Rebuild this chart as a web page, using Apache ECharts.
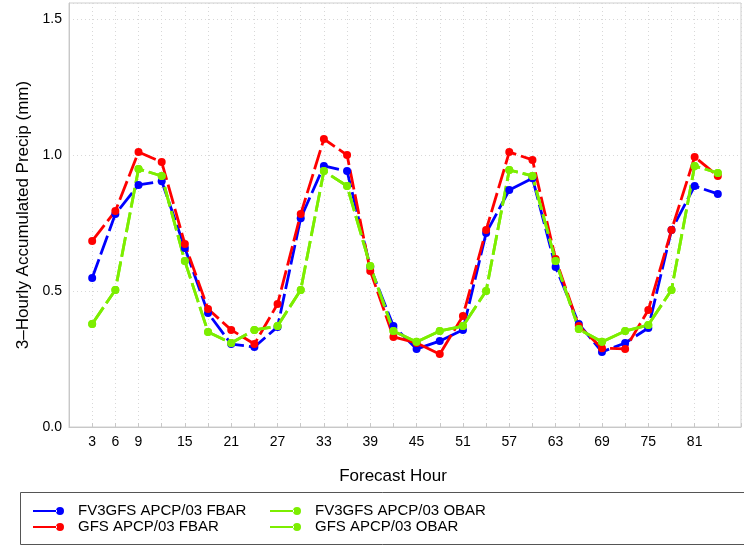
<!DOCTYPE html>
<html>
<head>
<meta charset="utf-8">
<script src="https://cdn.jsdelivr.net/npm/echarts@6/dist/echarts.min.js"></script>
<style>
  html, body { margin: 0; padding: 0; background: #fff; }
  #chart { width: 744px; height: 551px; }
</style>
</head>
<body>
<div id="chart"></div>
<script>
// Forecast lead times (hours)
const hours = [3, 6, 9, 12, 15, 18, 21, 24, 27, 30, 33, 36, 39, 42, 45, 48, 51, 54, 57, 60, 63, 66, 69, 72, 75, 78, 81, 84];
// Hour labels printed under the axis
const hourTickLabels = [3, 6, 9, 15, 21, 27, 33, 39, 45, 51, 57, 63, 69, 75, 81];
// Accumulated precip tick labels
const precipTicks = [0, 0.5, 1.0, 1.5];

// Mean forecast 3-h precip (mm)
const fv3gfsFbar = [0.548, 0.783, 0.890, 0.904, 0.658, 0.419, 0.305, 0.294, 0.368, 0.768,
  0.960, 0.941, 0.588, 0.371, 0.287, 0.316, 0.357, 0.713, 0.871, 0.915,
  0.588, 0.379, 0.276, 0.309, 0.364, 0.724, 0.886, 0.857];
const gfsFbar = [0.684, 0.794, 1.011, 0.974, 0.673, 0.434, 0.357, 0.305, 0.452, 0.783,
  1.059, 1.000, 0.574, 0.331, 0.309, 0.268, 0.408, 0.724, 1.011, 0.982,
  0.618, 0.371, 0.290, 0.287, 0.430, 0.724, 0.993, 0.923];
// Mean observed 3-h precip (mm), same obs set for both models
const fv3gfsObar = [0.379, 0.504, 0.949, 0.923, 0.610, 0.349, 0.309, 0.357, 0.371, 0.504,
  0.941, 0.886, 0.592, 0.353, 0.313, 0.353, 0.371, 0.500, 0.945, 0.923,
  0.610, 0.360, 0.313, 0.353, 0.375, 0.504, 0.960, 0.934];
const gfsObar = fv3gfsObar.slice();

const FONT = '"Liberation Sans", Arial, Helvetica, sans-serif';
const BLUE = '#0000ff', RED = '#ff0000', GREEN = '#7cee00';

// line with a dot at its right end
const legendIcon = 'path://M0,3.6H24V5.4H0Z M23,4.5A4,4 0 1,0 31,4.5A4,4 0 1,0 23,4.5Z';

function pairs(vals) { return hours.map((h, i) => [h, vals[i]]); }

function lineSeries(name, vals, color) {
  return {
    name: name,
    type: 'line',
    data: pairs(vals),
    symbol: 'circle',
    symbolSize: 8,
    showAllSymbol: true,
    itemStyle: { color: color, borderWidth: 0 },
    lineStyle: { color: color, width: 2.8, type: [20, 5] },
    emphasis: { disabled: true },
    animation: false
  };
}

const legendCommon = {
  orient: 'vertical',
  top: 498,
  itemWidth: 31,
  itemHeight: 9,
  itemGap: 0,
  icon: legendIcon,
  itemStyle: { borderWidth: 0 },
  textStyle: { fontFamily: FONT, fontSize: 15, color: '#000', lineHeight: 16, padding: [0, 0, 0, 9] },
  selectedMode: false
};

const gridLine = { show: true, lineStyle: { color: '#d8d8d8', type: [1, 3], width: 1 } };

const chart = echarts.init(document.getElementById('chart'), null, { renderer: 'canvas' });
chart.setOption({
  backgroundColor: '#fff',
  animation: false,
  grid: {
    left: 69, right: 1, top: 3, bottom: 124,
    show: true, borderColor: '#cfcfcf', borderWidth: 1
  },
  xAxis: {
    type: 'value',
    min: 0, max: 87, interval: 3,
    name: 'Forecast Hour',
    nameLocation: 'middle',
    nameGap: 41,
    nameTextStyle: { fontFamily: FONT, fontSize: 17, color: '#000', padding: [0, 24, 0, 0] },
    axisLine: { onZero: false, lineStyle: { color: '#c8c8c8' } },
    axisTick: { show: true, inside: true, length: 4, lineStyle: { color: '#c8c8c8' } },
    axisLabel: {
      fontFamily: FONT, fontSize: 14, color: '#000', margin: 8,
      formatter: v => hourTickLabels.indexOf(v) >= 0 ? String(v) : ''
    },
    splitLine: gridLine
  },
  yAxis: {
    type: 'value',
    min: 0, max: 1.559, interval: 0.5,
    name: '3\u2013Hourly Accumulated Precip (mm)',
    nameLocation: 'middle',
    nameGap: 37,
    nameRotate: 90,
    nameTextStyle: { fontFamily: FONT, fontSize: 17, color: '#000' },
    axisLine: { show: true, lineStyle: { color: '#c8c8c8' } },
    axisTick: { show: false },
    axisLabel: {
      fontFamily: FONT, fontSize: 14, color: '#000', margin: 7,
      formatter: v => {
        const hit = precipTicks.find(t => Math.abs(t - v) < 1e-6);
        return hit === undefined ? '' : hit.toFixed(1);
      }
    },
    splitLine: gridLine
  },
  legend: [
    Object.assign({}, legendCommon, { left: 28, data: ['FV3GFS APCP/03 FBAR', 'GFS APCP/03 FBAR'] }),
    Object.assign({}, legendCommon, { left: 265, data: ['FV3GFS APCP/03 OBAR', 'GFS APCP/03 OBAR'] })
  ],
  graphic: [{
    type: 'rect',
    shape: { x: 20.5, y: 492.5, width: 740, height: 52 },
    style: { fill: 'none', stroke: '#555', lineWidth: 1 },
    silent: true
  }],
  series: [
    lineSeries('FV3GFS APCP/03 FBAR', fv3gfsFbar, BLUE),
    lineSeries('GFS APCP/03 FBAR', gfsFbar, RED),
    lineSeries('FV3GFS APCP/03 OBAR', fv3gfsObar, GREEN),
    lineSeries('GFS APCP/03 OBAR', gfsObar, GREEN)
  ]
});
</script>
</body>
</html>
